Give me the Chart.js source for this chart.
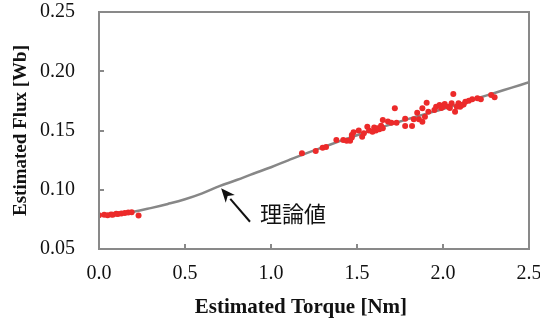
<!DOCTYPE html>
<html>
<head>
<meta charset="utf-8">
<script src="https://cdn.jsdelivr.net/npm/chart.js@4/dist/chart.umd.min.js"></script>
<style>
  html, body { margin: 0; padding: 0; background: #fff; }
  #wrap { width: 540px; height: 323px; }
</style>
</head>
<body>
<div id="wrap"><canvas id="chFlux" width="540" height="323"></canvas></div>
<script>
// measured points (torque [Nm], flux [Wb])
var measTorque = [
  0.00, 0.03, 0.05, 0.07, 0.08, 0.10, 0.11, 0.13, 0.15, 0.17, 0.19, 0.23,
  1.18, 1.26, 1.30, 1.32, 1.38, 1.42, 1.44, 1.46, 1.47, 1.48, 1.51, 1.47,
  1.53, 1.54, 1.56, 1.57, 1.59, 1.60, 1.61, 1.62, 1.63, 1.64, 1.65, 1.65,
  1.68, 1.70, 1.73, 1.72, 1.78, 1.78, 1.82, 1.83, 1.85, 1.86, 1.88, 1.88,
  1.905, 1.895, 1.915, 1.95, 1.96, 1.98, 1.99, 2.00, 2.01, 2.03, 2.04, 2.05,
  2.06, 2.07, 2.08, 2.09, 2.10, 2.11, 2.12, 2.13, 2.15, 2.17, 2.20, 2.22,
  2.28, 2.30
];
var measFlux = [
  0.0785, 0.0790, 0.0785, 0.0792, 0.0790, 0.0798, 0.0795, 0.0800, 0.0803, 0.0808, 0.0810, 0.0782,
  0.1308, 0.1327, 0.1355, 0.1360, 0.1420, 0.1420, 0.1414, 0.1414, 0.1462, 0.1485, 0.1500, 0.1440,
  0.1448, 0.1476, 0.1532, 0.1500, 0.1490, 0.1525, 0.1500, 0.1518, 0.1510, 0.1540, 0.1518, 0.1589,
  0.1575, 0.1566, 0.1566, 0.1687, 0.1600, 0.1538, 0.1538, 0.1595, 0.1650, 0.1595, 0.1574, 0.1687,
  0.1735, 0.1617, 0.1659, 0.1673, 0.1701, 0.1715, 0.1690, 0.1701, 0.1724, 0.1701, 0.1690, 0.1730,
  0.1808, 0.1659, 0.1701, 0.1730, 0.1700, 0.1715, 0.1720, 0.1743, 0.1751, 0.1763, 0.1772, 0.1763,
  0.1800, 0.1780
];

// theoretical curve
var theoTorque = [0.0, 0.1, 0.2, 0.3, 0.4, 0.5, 0.6, 0.7, 0.8, 0.9, 1.0, 1.1, 1.2,
  1.3, 1.4, 1.5, 1.6, 1.7, 1.8, 1.9, 2.0, 2.1, 2.2, 2.3, 2.4, 2.5];
var theoFlux = [0.0790, 0.0796, 0.0815, 0.0845, 0.0880, 0.0920, 0.0970, 0.1030, 0.1082, 0.1137, 0.1190,
  0.1248, 0.1305, 0.1358, 0.1410, 0.1460, 0.1508, 0.1553, 0.1598, 0.1640, 0.1682, 0.1727,
  0.1772, 0.1817, 0.1862, 0.1907];

var xTicks = [0, 0.5, 1.0, 1.5, 2.0, 2.5];
var yTicks = [0.05, 0.10, 0.15, 0.20, 0.25];

var axisGray = '#898989';
var serif = "'Liberation Serif', 'Times New Roman', serif";

function toPts(xs, ys) {
  return xs.map(function (x, i) { return { x: x, y: ys[i] }; });
}

// frame + inward tick marks
var framePlugin = {
  id: 'frame',
  afterDatasetsDraw: function (chart) {
    var ctx = chart.ctx, a = chart.chartArea;
    var sx = chart.scales.x, sy = chart.scales.y;
    ctx.save();
    ctx.strokeStyle = axisGray;
    ctx.lineWidth = 2;
    ctx.strokeRect(a.left, a.top, a.right - a.left, a.bottom - a.top);
    ctx.beginPath();
    xTicks.slice(1, -1).forEach(function (v) {
      var px = Math.round(sx.getPixelForValue(v));
      ctx.moveTo(px, a.bottom);
      ctx.lineTo(px, a.bottom - 5);
    });
    yTicks.slice(1, -1).forEach(function (v) {
      var py = Math.round(sy.getPixelForValue(v));
      ctx.moveTo(a.left, py);
      ctx.lineTo(a.left + 5, py);
    });
    ctx.stroke();
    ctx.restore();
  }
};

// arrow + label for the theoretical curve
var notePlugin = {
  id: 'note',
  afterDatasetsDraw: function (chart) {
    var ctx = chart.ctx;
    var sx = chart.scales.x, sy = chart.scales.y;
    var tipX = sx.getPixelForValue(0.71), tipY = sy.getPixelForValue(0.1012);
    var tailX = sx.getPixelForValue(0.878), tailY = sy.getPixelForValue(0.0730);
    var ang = Math.atan2(tipY - tailY, tipX - tailX);
    var len = 14, half = 6;
    var bx = tipX - len * Math.cos(ang), by = tipY - len * Math.sin(ang);
    ctx.save();
    ctx.strokeStyle = '#111';
    ctx.fillStyle = '#111';
    ctx.lineWidth = 2;
    ctx.beginPath();
    ctx.moveTo(tailX, tailY);
    ctx.lineTo(bx, by);
    ctx.stroke();
    ctx.beginPath();
    ctx.moveTo(tipX, tipY);
    ctx.lineTo(bx + half * Math.sin(ang), by - half * Math.cos(ang));
    ctx.lineTo(tipX - (len - 4) * Math.cos(ang), tipY - (len - 4) * Math.sin(ang));
    ctx.lineTo(bx - half * Math.sin(ang), by + half * Math.cos(ang));
    ctx.closePath();
    ctx.fill();
    ctx.font = "22px 'Noto Sans CJK JP'";
    ctx.textAlign = 'left';
    ctx.textBaseline = 'middle';
    ctx.fillText('理論値', sx.getPixelForValue(0.936), sy.getPixelForValue(0.0795));
    ctx.restore();
  }
};

new Chart(document.getElementById('chFlux'), {
  type: 'scatter',
  data: {
    datasets: [
      {
        label: 'measured',
        data: toPts(measTorque, measFlux),
        backgroundColor: '#ec2a2a',
        borderWidth: 0,
        pointRadius: 3,
        order: 1
      },
      {
        label: 'theory',
        type: 'line',
        data: toPts(theoTorque, theoFlux),
        borderColor: '#878787',
        borderWidth: 2.5,
        pointRadius: 0,
        tension: 0.4,
        fill: false,
        order: 2
      }
    ]
  },
  options: {
    responsive: false,
    animation: false,
    devicePixelRatio: 1,
    layout: { padding: { left: 0, right: 11, top: 12, bottom: 0 } },
    plugins: { legend: { display: false }, tooltip: { enabled: false } },
    scales: {
      x: {
        type: 'linear',
        min: 0, max: 2.5,
        grid: { display: false, drawTicks: false },
        border: { display: false },
        afterBuildTicks: function (s) { s.ticks = xTicks.map(function (v) { return { value: v }; }); },
        afterFit: function (s) { s.height = 74; s.paddingLeft = 0; s.paddingRight = 0; },
        ticks: {
          padding: 13,
          color: '#111',
          font: { family: serif, size: 20 },
          callback: function (v) { return v.toFixed(1); }
        },
        title: {
          display: true,
          text: 'Estimated Torque [Nm]\u00a0\u00a0\u00a0\u00a0\u00a0',
          color: '#111',
          padding: { top: 0, bottom: 3 },
          font: { family: serif, size: 21, weight: 'bold' }
        }
      },
      y: {
        type: 'linear',
        min: 0.05, max: 0.25,
        grid: { display: false, drawTicks: false },
        border: { display: false },
        afterBuildTicks: function (s) { s.ticks = yTicks.map(function (v) { return { value: v }; }); },
        afterFit: function (s) { s.width = 99; s.paddingTop = 0; s.paddingBottom = 0; },
        ticks: {
          padding: 24,
          color: '#111',
          font: { family: serif, size: 20 },
          callback: function (v) { return v.toFixed(2); }
        },
        title: {
          display: true,
          text: 'Estimated Flux [Wb]',
          color: '#111',
          padding: { top: 10, bottom: 0 },
          font: { family: serif, size: 19, weight: 'bold' }
        }
      }
    }
  },
  plugins: [framePlugin, notePlugin]
});
</script>
</body>
</html>
